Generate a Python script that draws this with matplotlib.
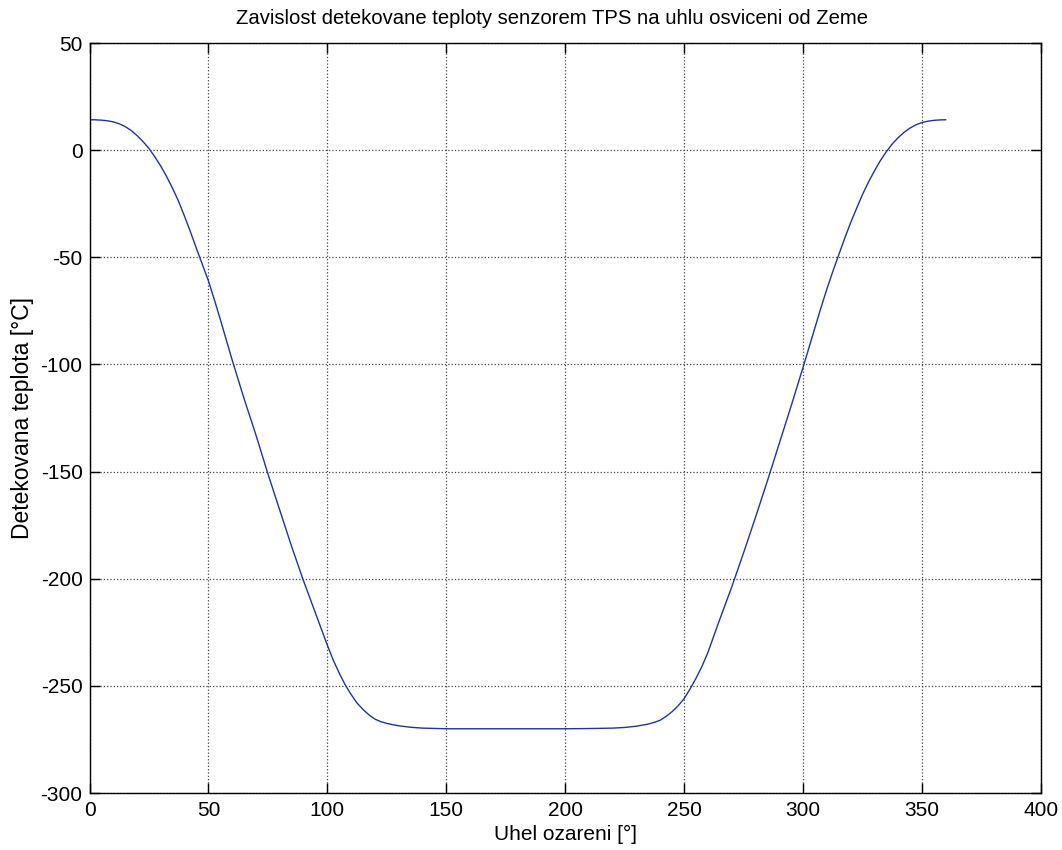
import matplotlib
matplotlib.use('Agg')
import matplotlib.pyplot as plt

# Uhel ozareni [deg] and detected temperature [degC]
uhel = [0, 2.5, 5, 7.5, 10, 12.5, 15, 17.5, 20, 22.5, 25, 27.5, 30, 32.5, 35, 37.5, 40,
        42.5, 45, 47.5, 50, 52.5, 55, 60, 65, 70, 75, 80, 85, 90, 95, 100, 102.5, 105,
        107.5, 110, 112.5, 115, 117.5, 120, 122.5, 125, 127.5, 130, 135, 140, 150, 160,
        170, 180, 190, 200, 210, 220, 225, 230, 232.5, 235, 237.5, 240, 242.5, 245,
        247.5, 250, 252.5, 255, 257.5, 260, 265, 270, 275, 280, 285, 290, 295, 300,
        305, 307.5, 310, 312.5, 315, 317.5, 320, 322.5, 325, 327.5, 330, 332.5, 335,
        337.5, 340, 342.5, 345, 347.5, 350, 352.5, 355, 357.5, 360]
teplota = [14.2, 14.15, 14.0, 13.7, 13.2, 12.3, 11.0, 9.2, 6.8, 4.0, 0.8, -3.2, -7.5,
           -12.5, -18, -24, -31, -38.3, -46, -53.5, -61, -69.8, -79, -98, -116, -133,
           -151, -168, -185, -201, -216, -231, -238, -244, -249.5, -254, -258, -261,
           -263.5, -265.5, -266.7, -267.5, -268.1, -268.6, -269.3, -269.7, -270, -270,
           -270, -270, -270, -270, -269.9, -269.7, -269.4, -268.8, -268.3, -267.8, -267,
           -266, -264.2, -262, -259.3, -256, -251.5, -246.5, -241, -234.5, -219, -204,
           -188, -171.5, -154.5, -137, -119.5, -101.5, -83, -73.8, -65, -56.8, -49,
           -41.3, -34, -27.3, -20.8, -15, -9.8, -5, -0.8, 2.8, 5.8, 8.3, 10.3, 11.8,
           12.9, 13.5, 13.9, 14.1, 14.2]

plt.rcParams['font.family'] = ['Liberation Sans', 'DejaVu Sans']
plt.rcParams['axes.unicode_minus'] = False

fig = plt.figure(figsize=(10.62, 8.5), dpi=100)
ax = fig.add_axes([0.0843, 0.067, 0.8957, 0.8824])

ax.plot(uhel, teplota, color='#22339c', lw=1.0)

ax.set_xlim(0, 400)
ax.set_ylim(-300, 50)
ax.set_xticks(range(0, 401, 50))
ax.set_yticks(range(-300, 51, 50))
ax.grid(True, linestyle=':', color='#444444', lw=0.9)
ax.tick_params(direction='in', top=True, right=True, length=7, width=1, labelsize=15)
ax.tick_params(axis='x', pad=6)
ax.tick_params(axis='y', pad=5)
for s in ax.spines.values():
    s.set_linewidth(1.0)

ax.set_title('Zavislost detekovane teploty senzorem TPS na uhlu osviceni od Zeme',
             fontsize=14.6, pad=14, x=0.486)
ax.set_xlabel('Uhel ozareni [°]', fontsize=15, labelpad=3)
ax.set_ylabel('Detekovana teplota [°C]', fontsize=16.5, labelpad=5)

fig.savefig('out.png', dpi=100)
